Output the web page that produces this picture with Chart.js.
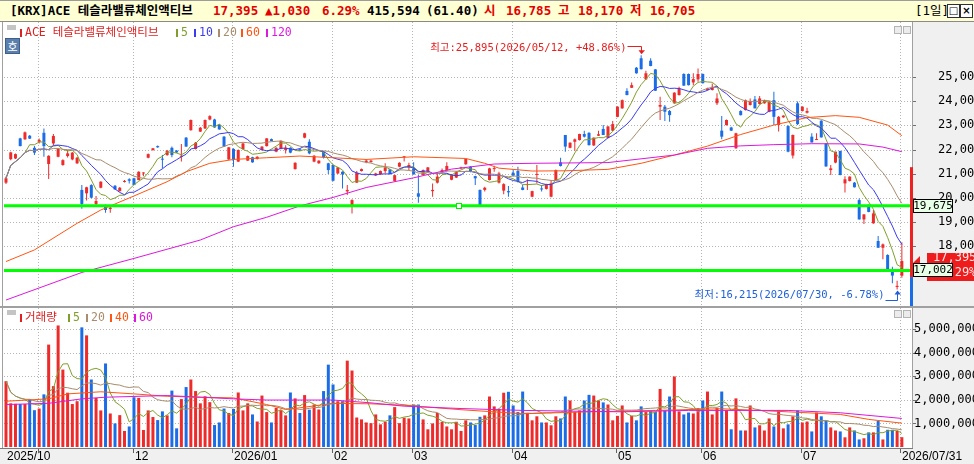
<!DOCTYPE html>
<html lang="ko">
<head>
<meta charset="utf-8">
<title>ACE 테슬라밸류체인액티브</title>
<script src="https://cdn.jsdelivr.net/npm/chart.js@4.4.1/dist/chart.umd.min.js"></script>
<style>
  html, body { margin: 0; padding: 0; width: 974px; height: 464px; overflow: hidden; background: #fff; }
  body { position: relative; font-family: "DejaVu Sans Mono", "Noto Sans CJK KR", monospace; }
  .abs { position: absolute; white-space: nowrap; }
  canvas { position: absolute; left: 0; }
  #priceCanvas { top: 22px; }
  #volCanvas { top: 308px; }
  #header { left: 0; top: 0; width: 974px; height: 22px; background: #ffffd4; border-top: 1px solid #9c9c9c;
            border-bottom: 1px solid #8a8a8a; box-sizing: border-box; }
  #header span { position: absolute; top: 3px; font-weight: bold; font-size: 12.5px; line-height: 14px; white-space: nowrap; }
  .lg { font-size: 11.5px; line-height: 13px; }
  .lg i { display: inline-block; width: 2px; height: 8px; margin-right: 3px; vertical-align: -1px; }
  .tog { width: 9px; height: 5px; background: #c4c4c4; }
  .btn { width: 6px; height: 6px; border: 1px solid #b4b4b4; background: #ececec; }
  .hbtn { width: 11px; height: 12px; border: 1px solid #303030; background: #fff; font: bold 10px "DejaVu Sans", sans-serif;
          line-height: 12px; text-align: center; }
  #ho { left: 5px; top: 38px; width: 13px; height: 14px; background: #5b80ae; border: 1px solid #3d5f8c; color: #fff;
        font: 11px "Noto Sans CJK KR", sans-serif; line-height: 14px; text-align: center; }
</style>
</head>
<body>
<div id="header" class="abs"></div>
<canvas id="priceCanvas" width="980" height="286"></canvas>
<canvas id="volCanvas" width="980" height="156"></canvas>
<div id="overlay"></div>

<script>
// ---- values ----
const monthLabels = ['2025/10', '11', '12', '2026/01', '02', '03', '04', '05', '06', '07'];
const monthStart = [0, 7, 27, 48, 69, 86, 107, 129, 147, 168];
const lastDate = '2026/07/31';
const peakDate = '2026/05/12';
const troughDate = '2026/07/30';

const opens = [
  20630,21600,21630,22460,22420,22570,22070,22320,22690,21400,
  22250,21700,21360,21730,21590,21430,20330,20190,20530,19750,
  20420,19640,19540,20500,20280,20660,20770,20810,20740,21010,
  21660,21980,22140,21610,21770,22070,21950,21700,22490,22800,
  22020,22740,22870,23240,23240,23020,22530,21590,22020,21500,
  22020,21540,21680,21610,21980,22140,22430,21910,22030,21980,
  22070,21190,22010,22490,22320,21500,21430,21910,21430,21360,
  21010,21080,20270,19640,20630,21110,21480,21480,20930,20970,
  21110,21180,20700,21290,21680,21250,21220,20190,20950,21080,
  20280,20630,21070,21150,20750,20840,21220,21390,21290,20900,
  20330,20330,20740,21190,20630,20300,20280,21040,21110,20430,
  20530,20050,20950,20390,20370,20050,20740,21470,22600,22070,
  22320,22390,22640,22690,22170,22570,22850,22480,22780,23350,
  23700,24420,24550,25380,25770,24900,25670,25310,23770,23770,
  23590,23910,24250,25120,25120,24770,24900,25120,24460,24460,
  23910,22780,23010,22910,22050,23590,23630,23840,24070,23880,
  23910,23560,24040,23010,23330,22970,21750,23910,23590,23520,
  22530,22390,23190,22250,21150,21460,21940,20600,20700,20630,
  19910,19110,19710,18950,18220,17940,17640,17020,16320,16785
];
const highs = [
  20880,21910,21840,22490,22740,22600,22140,22460,22870,21760,
  22640,22050,21600,21980,21900,21690,20530,20460,20560,20080,
  20690,19730,19660,20530,20450,20740,20810,20830,21100,21060,
  21830,22060,22170,21770,21980,22120,21980,22230,22520,23240,
  22310,22930,23240,23420,23270,23050,22560,22100,22050,22000,
  22270,21750,21700,21720,22130,22470,22450,22090,22370,22180,
  22090,21470,22030,22690,22420,21770,21560,21930,21450,21380,
  21280,21100,20530,19940,21110,21220,21610,21580,21040,21130,
  21430,21200,20960,21470,21720,21450,21470,20950,21170,21280,
  20600,21060,21220,21470,20990,21110,21290,21620,21310,20920,
  20350,20460,21250,21330,21080,20610,20490,21150,21290,20530,
  20770,20300,21360,20530,20590,20740,21170,21660,22600,22300,
  22460,22650,22780,22710,22500,22780,23010,22970,23180,23790,
  24070,24530,24770,25410,25895,25250,25770,25330,24180,23840,
  23630,24370,24590,25150,25140,25150,25350,25140,24550,24730,
  24320,23380,23240,22940,22690,23620,24070,24110,24210,24210,
  24060,24000,24390,23380,23420,23000,22620,23980,23790,23730,
  22670,22670,23210,22270,21360,21910,21950,20900,20900,20660,
  19980,19320,19730,19500,18430,18120,17670,17160,16580,18170
];
const lows = [
  20570,21560,21610,22130,22400,22430,21770,22250,21700,20780,
  22180,21680,21330,21670,21560,21400,19550,19890,19990,19710,
  20400,19390,19390,20340,20260,20640,20600,20530,20730,20900,
  21640,21950,22070,21220,21740,21680,21860,21500,22110,22780,
  22000,22720,22850,23210,22900,22820,22100,21570,21290,21480,
  22000,21520,21450,21590,21960,22120,22340,21890,22010,21840,
  21850,21170,21940,22470,21800,21470,21410,21630,20990,20690,
  20990,20390,20120,19360,20620,21090,21430,21460,20910,20950,
  21010,20970,20680,21270,21500,21150,20970,19800,20930,21060,
  20050,20600,21010,21080,20730,20820,21200,21370,21060,20530,
  19700,20260,20720,21080,20600,20150,20050,20880,20640,20320,
  20330,20030,20600,20260,20350,20030,20720,21300,21910,22050,
  21950,22370,22500,22170,22150,22560,22600,22460,22760,23330,
  23680,24240,24540,25130,25310,24870,25440,24420,23220,23180,
  23150,23890,24230,24620,24650,24660,24800,24730,24440,24440,
  23840,22420,22990,22760,22030,23410,23610,23820,23700,23860,
  23890,23540,23010,22740,23310,21890,21630,23010,23570,23490,
  22290,22390,22500,21290,20950,21430,20940,20220,20680,20430,
  19110,18920,19410,18930,17940,17460,17020,16470,16215,16705
];
const closes = [
  20810,21880,21810,22140,22710,22450,21870,22390,22140,21740,
  22560,22020,21560,21840,21870,21660,19750,20440,20010,19870,
  20670,19500,19600,20350,20420,20700,20710,20530,21080,21050,
  21810,22050,22090,21580,21950,21770,21880,21740,22120,23220,
  22280,22900,23220,23380,22910,22830,22120,22090,21590,21980,
  22250,21730,21470,21700,22120,22460,22350,22070,22360,22070,
  21870,21450,21950,22670,21840,21740,21540,21670,21150,20710,
  21260,20970,20330,19910,21040,21190,21540,21540,21010,21110,
  21260,20990,20940,21450,21700,21360,20970,20050,21150,21260,
  20330,20880,21150,21320,20970,21080,21260,21610,21080,20810,
  19710,20420,21220,21220,21010,20570,20230,20920,20700,20330,
  20570,20280,20990,20350,20570,20600,21150,21320,22120,22280,
  22420,22640,22530,22180,22490,22630,22600,22950,23050,23770,
  24040,24250,24660,25150,25320,25150,25450,24430,23840,23560,
  23420,24350,24530,24640,24660,24910,25120,24740,24530,24590,
  24110,22530,23220,22780,22670,23420,24040,24000,23700,24110,
  24040,23970,23350,23350,23400,21910,22600,23050,23770,23590,
  22290,22430,22500,21300,21220,21910,20945,20770,20880,20440,
  19110,19320,19420,19360,17940,18080,17020,16790,16365,17395
];
// volume in millions of shares
const volumes = [
  2.79,1.85,1.83,1.82,1.82,2.01,1.56,1.63,2.23,4.34,
  2.58,5.15,3.28,2.30,1.82,1.94,5.07,4.73,2.86,2.08,
  1.55,3.54,1.42,1.00,1.35,0.68,0.87,2.11,2.08,0.72,
  1.55,1.27,1.14,1.51,1.34,2.39,0.79,2.03,2.54,2.86,
  2.37,1.85,2.15,1.90,0.93,1.04,1.63,1.44,1.61,2.31,
  1.55,1.85,1.38,1.08,2.18,1.48,1.04,1.66,1.56,1.34,
  2.31,2.06,1.44,2.20,1.58,1.80,1.59,2.37,3.49,2.65,
  1.94,1.94,3.66,3.24,1.25,1.17,1.04,1.01,1.38,0.96,
  1.07,1.34,1.69,1.01,1.24,1.21,1.80,1.80,1.17,0.75,
  1.00,1.44,1.06,0.87,0.75,1.07,0.68,1.13,1.04,0.93,
  1.28,1.34,2.14,1.72,1.62,2.30,2.34,1.76,1.48,2.35,
  1.44,1.13,1.30,1.04,1.04,0.92,1.30,1.21,2.14,1.97,
  1.49,1.55,1.97,2.21,2.18,1.97,1.89,1.80,1.13,1.32,
  1.76,1.04,1.32,1.13,1.72,1.48,1.51,1.49,2.46,1.55,
  2.14,2.99,1.51,1.38,1.46,1.42,1.65,1.97,2.35,1.38,
  1.65,2.35,1.56,0.75,2.06,0.70,0.70,1.76,0.83,0.92,
  0.70,1.21,0.87,1.55,0.79,0.96,1.30,1.55,1.04,1.08,
  0.66,1.46,1.30,1.10,0.83,0.70,0.66,0.41,0.83,0.70,
  0.32,0.37,0.62,0.62,1.10,0.32,0.73,0.73,0.6769,0.415594
];

const ma60At = [0,6,15,20,27,34,38,43,48,55,62,69,76,86,97,101,104,111,118,127,134,141,148,155,162,169,175,180,186,189];
const ma60 = [17370,17850,18950,19500,20080,20670,21080,21430,21590,21660,21730,21660,21590,21700,21630,21430,21230,21110,21120,21180,21430,21770,22140,22620,23010,23320,23400,23330,23010,22570];
const ma120At = [0,16,27,41,48,55,62,69,76,86,94,103,111,127,141,148,155,162,170,180,185,189];
const ma120 = [15780,16920,17500,18260,18810,19200,19670,20020,20430,20830,21190,21400,21430,21460,21770,22050,22150,22200,22240,22230,22100,21910];
const volMa40At = [0,9,13,20,27,34,41,48,55,59,62,69,77,84,96,109,123,137,151,165,176,182,189];
const volMa40 = [1.94,2.04,2.25,2.34,2.25,2.15,2.11,2.08,1.80,1.59,1.66,1.85,1.83,1.77,1.58,1.41,1.49,1.55,1.62,1.49,1.38,1.17,1.01];
const volMa60At = [0,9,16,21,34,48,55,69,77,84,96,109,130,144,165,176,189];
const volMa60 = [1.80,1.85,2.04,2.11,2.18,2.04,1.99,1.99,1.87,1.73,1.63,1.55,1.49,1.55,1.55,1.45,1.21];

const priceTicks = [17000, 18000, 19000, 20000, 21000, 22000, 23000, 24000, 25000];
const volTicks = [1, 2, 3, 4, 5];
const levelLines = [19675, 17002];   // user drawn horizontal lines
const levelHandleAt = 95.6;          // handle square on the first line
const sideGauge = [21270, 16730];    // red / blue gauge at the right edge

// ---- look ----
const RED = '#ee2b2b', BLUE = '#1a6de6';
const C5 = '#7f9f2a', C10 = '#3b3bf2', C20 = '#a88c6c', C60 = '#ff5511', C120 = '#dd18dd';
const AXIS_W = 68;
const X_MIN = -0.42, X_MAX = 191.14;
const MONO = '"DejaVu Sans Mono", "Noto Sans CJK KR", monospace';

const N = closes.length;
const idx = closes.map((_, i) => i);
const barColors = idx.map(i => (closes[i] >= opens[i] ? RED : BLUE));
const fmt = v => Math.round(v).toLocaleString('en-US');
const pairs = (at, vals) => at.map((x, k) => ({ x, y: vals[k] }));

// simple moving average, shorter window at the left edge
function movingAvg(src, n) {
  return src.map((_, i) => {
    const from = Math.max(0, i - n + 1);
    let s = 0;
    for (let k = from; k <= i; k++) s += src[k];
    return { x: i, y: s / (i - from + 1) };
  });
}

function lineSet(points, color, width, order) {
  return { type: 'line', data: points, borderColor: color, borderWidth: width || 1, pointRadius: 0,
           tension: 0, order: order || 5 };
}

// dotted grid + borders, shared by both panes
function paneBackground(chart, yTicks) {
  const { ctx, chartArea: a, scales: { x, y } } = chart;
  ctx.save();
  ctx.fillStyle = '#fff';
  ctx.fillRect(0, 0, chart.width, chart.height);
  ctx.fillStyle = '#f0f0f0';
  ctx.fillRect(a.right, 0, chart.width, chart.height);
  ctx.fillStyle = '#a0a0a0';
  ctx.fillRect(a.right, 0, 1, chart.height);
  ctx.fillRect(2, 0, 1, chart.height);

  ctx.strokeStyle = '#b4b4b4';
  ctx.lineWidth = 1;
  ctx.setLineDash([1, 2]);
  ctx.beginPath();
  yTicks.forEach(v => {
    const py = Math.round(y.getPixelForValue(v)) + 0.5;
    ctx.moveTo(a.left, py); ctx.lineTo(a.right, py);
  });
  monthStart.slice(1).concat([N - 1]).forEach(s => {
    const px = Math.round(x.getPixelForValue(s - 0.3)) + 0.5;
    ctx.moveTo(px, a.top); ctx.lineTo(px, a.bottom);
  });
  ctx.stroke();
  ctx.setLineDash([]);
  ctx.fillStyle = '#707070';
  yTicks.forEach(v => ctx.fillRect(a.right + 1, Math.round(y.getPixelForValue(v)), 3, 1));
  ctx.restore();
}

function axisLabels(chart, yTicks, left, toText) {
  const { ctx, scales: { y } } = chart;
  ctx.save();
  ctx.font = '12px ' + MONO;
  ctx.fillStyle = '#000';
  ctx.textAlign = 'left';
  ctx.textBaseline = 'middle';
  yTicks.forEach(v => ctx.fillText(toText(v), left, y.getPixelForValue(v)));
  ctx.restore();
}

function tag(ctx, text, x0, yc, w, fill, stroke, color) {
  ctx.fillStyle = fill;
  ctx.fillRect(x0, Math.round(yc) - 7, w, 14);
  ctx.strokeStyle = stroke;
  ctx.strokeRect(x0 + 0.5, Math.round(yc) - 6.5, w - 1, 13);
  ctx.fillStyle = color;
  ctx.font = '11px ' + MONO;
  ctx.textAlign = 'center';
  ctx.textBaseline = 'middle';
  ctx.fillText(text, x0 + w / 2, Math.round(yc) + 0.5);
}

const lastClose = closes[N - 1];
const prevClose = closes[N - 2];
const change = lastClose - prevClose;
const changePct = (change / prevClose * 100).toFixed(2);

const pricePane = {
  id: 'pricePane',
  beforeDraw(chart) {
    paneBackground(chart, priceTicks);
    axisLabels(chart, priceTicks, chart.chartArea.right + 26, fmt);
  },
  afterDraw(chart) {
    const { ctx, chartArea: a, scales: { x, y } } = chart;
    ctx.save();
    ctx.lineWidth = 1;
    ctx.font = '10.5px ' + MONO;
    ctx.textBaseline = 'middle';
    ctx.textAlign = 'right';

    // highest high
    const hi = highs.indexOf(Math.max(...highs));
    const hx = Math.round(x.getPixelForValue(hi)) + 0.5;
    const hy = y.getPixelForValue(highs[hi]);
    const hLine = Math.round(hy - 9) + 0.5;
    const hiPct = ((highs[hi] / lastClose - 1) * 100).toFixed(2);
    ctx.strokeStyle = ctx.fillStyle = '#e62020';
    ctx.beginPath(); ctx.moveTo(hx - 14, hLine); ctx.lineTo(hx, hLine); ctx.lineTo(hx, hy - 4); ctx.stroke();
    ctx.beginPath(); ctx.moveTo(hx - 3, hy - 5); ctx.lineTo(hx + 3.5, hy - 5); ctx.lineTo(hx, hy - 1); ctx.fill();
    ctx.fillText(`최고:${fmt(highs[hi])}(${peakDate}, +${hiPct}%)`, hx - 15, hLine + 2);

    // lowest low
    const lo = lows.indexOf(Math.min(...lows));
    const lx = Math.round(x.getPixelForValue(lo)) + 0.5;
    const ly = y.getPixelForValue(lows[lo]);
    const lLine = Math.round(ly + 10) + 0.5;
    const loPct = ((lows[lo] / lastClose - 1) * 100).toFixed(2);
    ctx.strokeStyle = ctx.fillStyle = '#1f5fdc';
    ctx.beginPath(); ctx.moveTo(lx - 12, lLine); ctx.lineTo(lx, lLine); ctx.lineTo(lx, ly + 4); ctx.stroke();
    ctx.beginPath(); ctx.moveTo(lx - 3, ly + 5); ctx.lineTo(lx + 3.5, ly + 5); ctx.lineTo(lx, ly + 1); ctx.fill();
    ctx.fillText(`최저:${fmt(lows[lo])}(${troughDate}, ${loPct}%)`, lx - 13, lLine - 5);

    // handle of the drawn line
    const sx = x.getPixelForValue(levelHandleAt), sy = y.getPixelForValue(levelLines[0]);
    ctx.fillStyle = '#fff';
    ctx.fillRect(Math.round(sx) - 3, Math.round(sy) - 3, 6, 6);
    ctx.strokeStyle = '#00ee00';
    ctx.strokeRect(Math.round(sx) - 2.5, Math.round(sy) - 2.5, 5, 5);

    // gauge on the right edge
    const g0 = y.getPixelForValue(sideGauge[0]), g1 = y.getPixelForValue(sideGauge[1]);
    ctx.fillStyle = '#ee2020';
    ctx.fillRect(a.right - 2, g0, 3, g1 - g0);
    ctx.fillStyle = '#1a6de6';
    ctx.fillRect(a.right - 2, g1, 3, chart.height - g1);

    // current price tag (two lines, partly hidden by the level tag)
    const cy = Math.round(y.getPixelForValue(lastClose));
    ctx.fillStyle = '#ee1c1c';
    ctx.fillRect(a.right + 15, cy - 8, 60, 28);
    ctx.beginPath(); ctx.moveTo(a.right + 1, cy + 2); ctx.lineTo(a.right + 8, cy - 5); ctx.lineTo(a.right + 8, cy + 2); ctx.fill();
    ctx.fillStyle = '#ffe6e6';
    ctx.font = '12px ' + MONO;
    ctx.textAlign = 'left';
    ctx.fillText(fmt(lastClose), a.right + 21, cy - 3.5);
    ctx.fillText('(' + changePct + '%)', a.right + 21, cy + 12);

    // level tags
    levelLines.forEach(v => tag(ctx, fmt(v), a.right + 1, y.getPixelForValue(v), 40, '#e8ffe8', '#000', '#000'));

    // pane separator
    ctx.fillStyle = '#a0a0a0';
    ctx.fillRect(0, chart.height - 2, chart.width, 2);
    ctx.restore();
  }
};

const volPane = {
  id: 'volPane',
  beforeDraw(chart) {
    paneBackground(chart, volTicks);
    const { ctx, chartArea: a } = chart;
    ctx.save();
    ctx.fillStyle = '#f0f0f0';
    ctx.fillRect(0, a.bottom + 1, chart.width, chart.height);
    ctx.fillStyle = '#7a7a7a';
    ctx.fillRect(0, a.bottom + 1, a.right + 1, 1);
    ctx.restore();
    axisLabels(chart, volTicks, chart.chartArea.right + 2, v => fmt(v * 1e6));
  },
  afterDraw(chart) {
    const { ctx, chartArea: a, scales: { x } } = chart;
    ctx.save();
    ctx.font = '12px "Liberation Sans", Arial, sans-serif';
    ctx.textBaseline = 'middle';
    ctx.textAlign = 'left';
    const marks = monthStart.map((s, k) => [s, monthLabels[k]]).concat([[N - 1, lastDate]]);
    let lastRight = -Infinity;
    marks.forEach(([s, label]) => {
      const px = Math.round(x.getPixelForValue(s - 0.3));
      if (s > 0) { ctx.fillStyle = '#606060'; ctx.fillRect(px, a.bottom + 2, 1, 4); }
      const tx = Math.max(px + 2, a.left + 2);
      if (tx < lastRight + 4) return;
      ctx.fillStyle = '#000';
      ctx.fillText(label, tx, a.bottom + 10);
      lastRight = tx + ctx.measureText(label).width;
    });
    ctx.restore();
  }
};

const baseOptions = (yMin, yMax, bottomPad) => ({
  responsive: false,
  animation: false,
  devicePixelRatio: 1,
  events: [],
  layout: { padding: { left: 4, top: 0, right: 0, bottom: bottomPad } },
  plugins: { legend: { display: false }, tooltip: { enabled: false } },
  scales: {
    x: { type: 'linear', min: X_MIN, max: X_MAX, offset: false, display: false },
    y: {
      position: 'right', min: yMin, max: yMax,
      grid: { display: false, drawTicks: false }, border: { display: false }, ticks: { display: false },
      afterFit: s => { s.width = AXIS_W; s.paddingTop = 0; s.paddingBottom = 0; }
    }
  }
});

new Chart(document.getElementById('priceCanvas'), {
  type: 'bar',
  data: {
    datasets: [
      { type: 'bar', data: idx.map(i => ({ x: i, y: [lows[i], highs[i]] })), backgroundColor: barColors,
        barThickness: 1, inflateAmount: 0, grouped: false, order: 20 },
      { type: 'bar', data: idx.map(i => ({ x: i, y: [Math.min(opens[i], closes[i]), Math.max(opens[i], closes[i])] })),
        backgroundColor: barColors, barThickness: 3, inflateAmount: 0, minBarLength: 1, grouped: false, order: 19 },
      lineSet(pairs(ma120At, ma120), C120),
      lineSet(pairs(ma60At, ma60), C60),
      lineSet(movingAvg(closes, 20), C20),
      lineSet(movingAvg(closes, 10), C10),
      lineSet(movingAvg(closes, 5), C5),
      ...levelLines.map(v => lineSet([{ x: X_MIN, y: v }, { x: X_MAX, y: v }], '#00ff00', 3, 1))
    ]
  },
  options: baseOptions(15492, 27269, 1),
  plugins: [pricePane]
});

new Chart(document.getElementById('volCanvas'), {
  type: 'bar',
  data: {
    datasets: [
      { type: 'bar', data: idx.map(i => ({ x: i, y: volumes[i] })), backgroundColor: barColors,
        barThickness: 3, inflateAmount: 0, grouped: false, order: 20 },
      lineSet(pairs(volMa60At, volMa60), C120),
      lineSet(pairs(volMa40At, volMa40), C60),
      lineSet(movingAvg(volumes, 20), C20),
      lineSet(movingAvg(volumes, 5), C5)
    ]
  },
  options: baseOptions(0, 5.89, 17),
  plugins: [volPane]
});

// ---- header, legends and small buttons ----
const lastVol = Math.round(volumes[N - 1] * 1e6);
const volRatio = (volumes[N - 1] / volumes[N - 2] * 100).toFixed(2);
const headerItems = [
  ['[KRX]ACE 테슬라밸류체인액티브', '#000', 10],
  [fmt(lastClose), '#e40000', 213],
  ['▲' + fmt(change), '#e40000', 265],
  [changePct + '%', '#e40000', 322],
  [fmt(lastVol), '#000', 367],
  ['(' + volRatio + ')', '#000', 426],
  ['시', '#e40000', 484], [fmt(opens[N - 1]), '#e40000', 506],
  ['고', '#e40000', 558], [fmt(highs[N - 1]), '#e40000', 578],
  ['저', '#e40000', 630], [fmt(lows[N - 1]), '#e40000', 650]
];
document.getElementById('header').innerHTML =
  headerItems.map(([t, c, x]) => `<span style="left:${x}px;color:${c}">${t}</span>`).join('') +
  '<span style="left:915px;font-weight:normal">[1일]</span>' +
  '<div class="abs hbtn" style="left:947px;top:3px">&#9633;</div>' +
  '<div class="abs hbtn" style="left:960px;top:3px">&#215;</div>';

const priceLegend = [['ACE 테슬라밸류체인액티브', '#e02020', 20], ['5', C5, 176], ['10', C10, 194],
                     ['20', C20, 218], ['60', C60, 241], ['120', C120, 266]];
const volLegend = [['거래량', '#e02020', 20], ['5', C5, 68], ['20', C20, 86], ['40', C60, 110], ['60', C120, 134]];
const legendHtml = (items, top) => items.map(([t, c, x]) =>
  `<span class="abs lg" style="left:${x}px;top:${top}px;color:${c}"><i style="background:${c}"></i>${t}</span>`).join('');

document.getElementById('overlay').innerHTML =
  legendHtml(priceLegend, 26) + legendHtml(volLegend, 311) +
  '<div class="abs tog" style="left:7px;top:25px"></div>' +
  '<div class="abs tog" style="left:7px;top:310px"></div>' +
  '<div id="ho" class="abs">호</div>' +
  '<div class="abs btn" style="left:894px;top:26px"></div><div class="abs btn" style="left:903px;top:26px"></div>' +
  '<div class="abs btn" style="left:894px;top:310px"></div><div class="abs btn" style="left:903px;top:310px"></div>';
</script>
</body>
</html>
